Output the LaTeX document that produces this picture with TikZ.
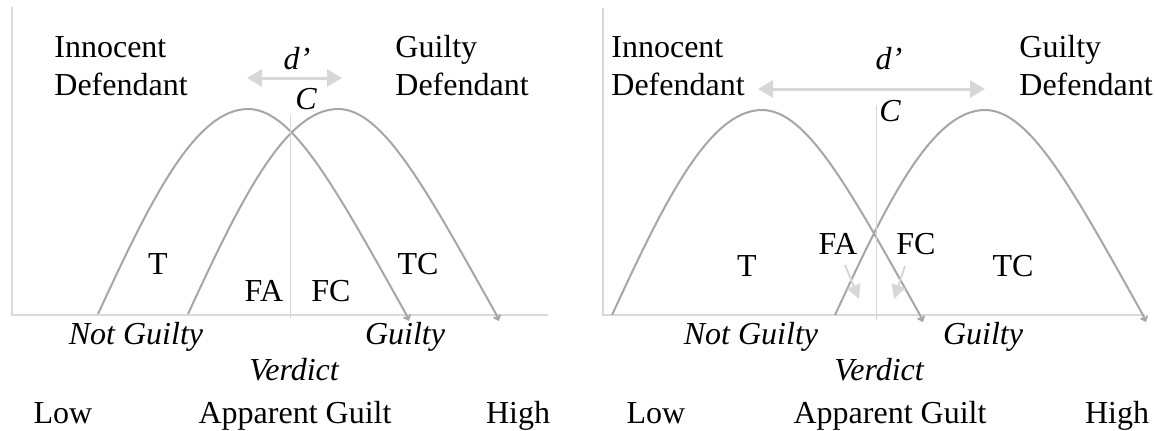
\documentclass[tikz,border=0pt]{standalone}
\usepackage{fontspec}
\setmainfont{Liberation Serif}
\usepackage{tikz}
\usetikzlibrary{arrows.meta}
\definecolor{curvegray}{RGB}{166,166,166}
\definecolor{axisgray}{RGB}{217,217,217}
\definecolor{critgray}{RGB}{214,214,214}
\definecolor{cuegray}{RGB}{215,215,215}

\begin{document}
\begin{tikzpicture}[x=0.5pt, y=-0.5pt,
  txt/.style={font=\fontsize{16}{19}\selectfont, inner sep=0pt, align=left},
  itxt/.style={txt, font=\fontsize{16}{19}\selectfont\itshape},
  axisline/.style={draw=axisgray, line width=0.75pt},
  critline/.style={draw=critgray, line width=0.5pt},
  density/.style={draw=curvegray, line width=1pt, -{Straight Barb[length=2pt, width=3.5pt]}},
  dsep/.style={draw=cuegray, line width=1.5pt,
               {Triangle[length=7.5pt, width=8.5pt]}-{Triangle[length=7.5pt, width=8.5pt]}},
  cue/.style={draw=cuegray, line width=1pt, -{Triangle[length=7pt, width=7pt]}},
  arch/.pic={\draw[density] (0,0) .. controls (50,-108) and (96,-205) .. (150,-205)
                             .. controls (195,-205) and (238,-125) .. (308,0) -- (311,7);},
]
  \useasboundingbox (0,0) rectangle (1155,430);

  % ---------- left panel: small d' ----------
  \coordinate (oL) at (12,315);
  \coordinate (yL) at (12,7);
  \coordinate (xL) at (548,315);
  \draw[axisline] (yL) -- (oL) -- (xL);

  \pic at (98,314) {arch};
  \pic at (188,314) {arch};

  \coordinate (cLtop) at (290,115);
  \coordinate (cLbot) at (290,318);
  \draw[critline] (cLtop) -- (cLbot);

  \node[txt, anchor=west] (innL) at (54,66) {Innocent\\Defendant};
  \node[txt, anchor=west] (guiL) at (395,66) {Guilty\\Defendant};
  \node[itxt] (dL) at (297,59) {d'};
  \coordinate (dLa) at (247,78);
  \coordinate (dLb) at (342,78);
  \draw[dsep] (dLa) -- (dLb);
  \node[itxt] (cL) at (306,99) {C};

  \node[txt, anchor=base] (tL) at (158,274) {T};
  \node[txt, anchor=base] (tcL) at (418,274) {TC};
  \node[txt, anchor=base] (faL) at (264,301) {FA};
  \node[txt, anchor=base] (fcL) at (331,301) {FC};

  \node[itxt] (ngL) at (136,337) {Not Guilty};
  \node[itxt] (gL) at (405,337) {Guilty};
  \node[itxt, anchor=base] (vL) at (294,380) {Verdict};
  \node[txt, anchor=base] (lowL) at (63,423) {Low};
  \node[txt, anchor=base] (agL) at (295,423) {Apparent Guilt};
  \node[txt, anchor=base] (highL) at (518,423) {High};

  % ---------- right panel: large d' ----------
  \coordinate (oR) at (603,315);
  \coordinate (yR) at (603,8);
  \coordinate (xR) at (1145,315);
  \draw[axisline] (yR) -- (oR) -- (xR);

  \pic at (612,315) {arch};
  \pic at (835,315) {arch};

  \coordinate (cRtop) at (876,105);
  \coordinate (cRbot) at (876,320);
  \draw[critline] (cRtop) -- (cRbot);

  \node[txt, anchor=west] (innR) at (611,66) {Innocent\\Defendant};
  \node[txt, anchor=west] (guiR) at (1019,66) {Guilty\\Defendant};
  \node[itxt] (dR) at (889,59) {d'};
  \coordinate (dRa) at (758,89);
  \coordinate (dRb) at (985,89);
  \draw[dsep] (dRa) -- (dRb);
  \node[itxt] (cR) at (890,111) {C};

  \node[txt, anchor=base] (tR) at (747,276) {T};
  \node[txt, anchor=base] (tcR) at (1013,276) {TC};
  \node[txt, anchor=base] (faR) at (838,254) {FA};
  \node[txt, anchor=base] (fcR) at (916,254) {FC};

  % pointers into the overlap
  \coordinate (faRtail) at (845,265);
  \coordinate (faRtip) at (859,299);
  \coordinate (fcRtail) at (905,266);
  \coordinate (fcRtip) at (894,299);
  \draw[cue] (faRtail) -- (faRtip);
  \draw[cue] (fcRtail) -- (fcRtip);

  \node[itxt] (ngR) at (751,337) {Not Guilty};
  \node[itxt] (gR) at (983,337) {Guilty};
  \node[itxt, anchor=base] (vR) at (879,380) {Verdict};
  \node[txt, anchor=base] (lowR) at (656,423) {Low};
  \node[txt, anchor=base] (agR) at (890,423) {Apparent Guilt};
  \node[txt, anchor=base] (highR) at (1117,423) {High};
\end{tikzpicture}
\end{document}
